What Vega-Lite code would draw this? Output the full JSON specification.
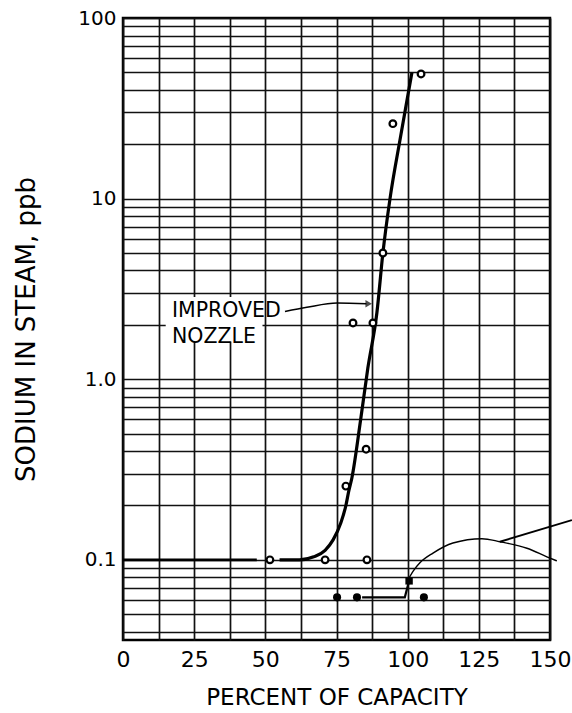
{
  "$schema": "https://vega.github.io/schema/vega-lite/v6.json",
  "width": 427,
  "height": 622,
  "autosize": "none",
  "padding": {"left": 123, "top": 18, "right": 22, "bottom": 73},
  "background": "white",
  "config": {
    "font": "DejaVu Sans",
    "view": {"stroke": "#000", "strokeWidth": 2.5},
    "axis": {"gridColor": "#111", "gridOpacity": 1, "gridWidth": 1.7, "ticks": false, "domain": false, "labelColor": "#000", "titleColor": "#000", "titleFontWeight": "normal"}
  },
  "datasets": {
    "open": [
      {"x": 51.6, "y": 0.1}, {"x": 71, "y": 0.1}, {"x": 85.7, "y": 0.1},
      {"x": 78.3, "y": 0.256}, {"x": 85.4, "y": 0.41},
      {"x": 80.8, "y": 2.05}, {"x": 87.8, "y": 2.05},
      {"x": 91.3, "y": 5.0}, {"x": 94.8, "y": 26}, {"x": 104.7, "y": 49}
    ],
    "filled": [
      {"x": 75.2, "y": 0.062}, {"x": 82.2, "y": 0.062}, {"x": 105.7, "y": 0.062}
    ],
    "square": [{"x": 100.5, "y": 0.0765}],
    "lines": [
      {"s": "base", "x": 0, "y": 0.1}, {"s": "base", "x": 47, "y": 0.1},
      {"s": "main", "x": 55, "y": 0.1}, {"s": "main", "x": 62, "y": 0.1}, {"s": "main", "x": 67, "y": 0.104},
      {"s": "main", "x": 71, "y": 0.113}, {"s": "main", "x": 73.8, "y": 0.129}, {"s": "main", "x": 76.5, "y": 0.16},
      {"s": "main", "x": 78.3, "y": 0.2}, {"s": "main", "x": 79.3, "y": 0.24}, {"s": "main", "x": 80.4, "y": 0.284},
      {"s": "main", "x": 83.5, "y": 0.6}, {"s": "main", "x": 86, "y": 1.15}, {"s": "main", "x": 89.2, "y": 2.34},
      {"s": "main", "x": 91.3, "y": 5.0}, {"s": "main", "x": 93.8, "y": 10}, {"s": "main", "x": 97.5, "y": 22},
      {"s": "main", "x": 101.5, "y": 50},
      {"s": "step", "x": 84, "y": 0.062}, {"s": "step", "x": 99, "y": 0.062}, {"s": "step", "x": 100.5, "y": 0.0765},
      {"s": "arc", "x": 100.1, "y": 0.0775}, {"s": "arc", "x": 102, "y": 0.087}, {"s": "arc", "x": 104.3, "y": 0.0963},
      {"s": "arc", "x": 108.9, "y": 0.109}, {"s": "arc", "x": 115.9, "y": 0.124}, {"s": "arc", "x": 126.1, "y": 0.131},
      {"s": "arc", "x": 132.4, "y": 0.126}, {"s": "arc", "x": 141.9, "y": 0.116}, {"s": "arc", "x": 148.9, "y": 0.104},
      {"s": "arc", "x": 152.4, "y": 0.0987},
      {"s": "leader", "x": 132.4, "y": 0.126}, {"s": "leader", "x": 157.7, "y": 0.166},
      {"s": "arrow", "x": 56.9, "y": 2.37}, {"s": "arrow", "x": 64.6, "y": 2.5}, {"s": "arrow", "x": 75.2, "y": 2.64}, {"s": "arrow", "x": 85.5, "y": 2.62}
    ],
    "box": [{"x": 15, "x2": 49, "y": 1.62, "y2": 2.85}],
    "labels": [
      {"x": 17.2, "y": 2.4, "t": "IMPROVED"},
      {"x": 17.2, "y": 1.72, "t": "NOZZLE"}
    ],
    "head": [{"x": 86.3, "y": 2.62}]
  },
  "encoding": {
    "x": {
      "field": "x", "type": "quantitative",
      "scale": {"domain": [0, 150], "nice": false, "zero": false},
      "axis": {
        "values": [0, 12.5, 25, 37.5, 50, 62.5, 75, 87.5, 100, 112.5, 125, 137.5, 150],
        "labelExpr": "datum.value % 25 == 0 ? datum.label : ''",
        "labelFontSize": 22, "labelPadding": 9, "labelFlush": false,
        "title": "PERCENT OF CAPACITY", "titleFontSize": 23, "titlePadding": 16
      }
    },
    "y": {
      "field": "y", "type": "quantitative",
      "scale": {"type": "log", "domain": [0.036, 100], "nice": false},
      "axis": {
        "values": [0.04, 0.05, 0.06, 0.07, 0.08, 0.09, 0.1, 0.2, 0.3, 0.4, 0.5, 0.6, 0.7, 0.8, 0.9, 1, 2, 3, 4, 5, 6, 7, 8, 9, 10, 20, 30, 40, 50, 60, 70, 80, 90, 100],
        "labelExpr": "datum.value == 100 ? '100' : datum.value == 10 ? '10' : datum.value == 1 ? '1.0' : datum.value == 0.1 ? '0.1' : ''",
        "labelFontSize": 20, "labelPadding": 7, "labelFlush": false,
        "title": "SODIUM IN STEAM, ppb", "titleFontSize": 26, "titlePadding": 38
      }
    }
  },
  "layer": [
    {"data": {"name": "box"}, "mark": {"type": "rect", "color": "white"},
     "encoding": {"x2": {"field": "x2"}, "y2": {"field": "y2"}}},
    {"data": {"name": "lines"}, "transform": [{"filter": "datum.s == 'base'"}],
     "mark": {"type": "line", "color": "#000", "strokeWidth": 2.6}},
    {"data": {"name": "lines"}, "transform": [{"filter": "datum.s == 'main'"}],
     "mark": {"type": "line", "color": "#000", "strokeWidth": 3.2, "interpolate": "monotone"}},
    {"data": {"name": "lines"}, "transform": [{"filter": "datum.s == 'step'"}],
     "mark": {"type": "line", "color": "#000", "strokeWidth": 2.2}},
    {"data": {"name": "lines"}, "transform": [{"filter": "datum.s == 'arc'"}],
     "mark": {"type": "line", "color": "#000", "strokeWidth": 1.4, "interpolate": "monotone", "clip": false}},
    {"data": {"name": "lines"}, "transform": [{"filter": "datum.s == 'leader'"}],
     "mark": {"type": "line", "color": "#000", "strokeWidth": 2, "clip": false}},
    {"data": {"name": "lines"}, "transform": [{"filter": "datum.s == 'arrow'"}],
     "mark": {"type": "line", "color": "#000", "strokeWidth": 1.5, "interpolate": "monotone"}},
    {"data": {"name": "head"}, "mark": {"type": "point", "shape": "triangle-right", "filled": true, "color": "#000", "size": 55}},
    {"data": {"name": "open"}, "mark": {"type": "point", "shape": "circle", "filled": true, "fill": "white", "stroke": "#000", "strokeWidth": 2.2, "size": 45, "opacity": 1}},
    {"data": {"name": "filled"}, "mark": {"type": "point", "shape": "circle", "filled": true, "color": "#000", "size": 65, "opacity": 1}},
    {"data": {"name": "square"}, "mark": {"type": "point", "shape": "square", "filled": true, "color": "#000", "size": 55, "opacity": 1}},
    {"data": {"name": "labels"}, "mark": {"type": "text", "align": "left", "baseline": "middle", "fontSize": 20.5, "color": "#000"},
     "encoding": {"text": {"field": "t"}}}
  ]
}
